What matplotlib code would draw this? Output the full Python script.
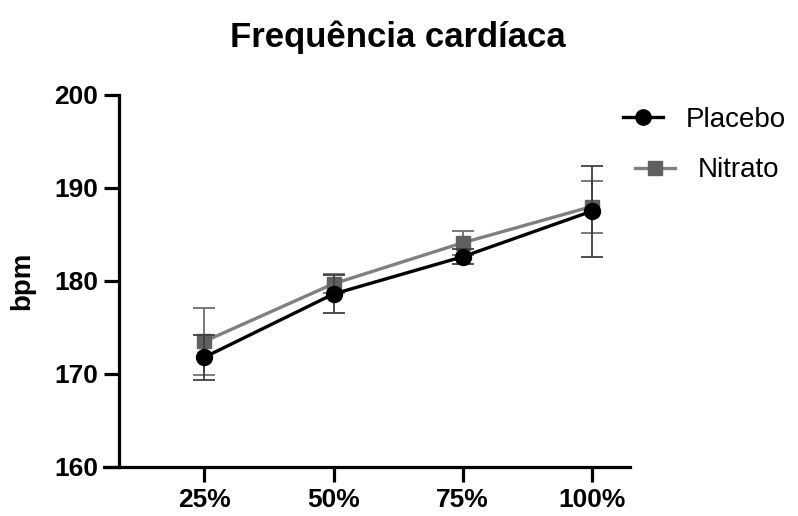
import matplotlib.pyplot as plt
from matplotlib.lines import Line2D

plt.rcParams['font.family'] = ['Liberation Sans', 'DejaVu Sans']

# intensidade do exercício
stages = ['25%', '50%', '75%', '100%']
placebo_mean = [171.8, 178.6, 182.6, 187.5]
placebo_sd = [2.4, 2.0, 0.8, 4.9]
nitrato_mean = [173.5, 179.7, 184.1, 188.0]
nitrato_sd = [3.6, 1.0, 1.3, 2.8]

x = list(range(1, len(stages) + 1))

fig = plt.figure(figsize=(7.98, 5.16), dpi=100)
ax = fig.add_axes([0.130, 0.095, 0.66, 0.721])

ax.errorbar(x, nitrato_mean, yerr=nitrato_sd, color='#808080', lw=2.4,
            marker='s', ms=10, mfc='#606060', mec='#606060',
            ecolor='#707070', elinewidth=1.3, capsize=8, capthick=1.3, zorder=2)
ax.errorbar(x, placebo_mean, yerr=placebo_sd, color='black', lw=2.4,
            marker='o', ms=11.5, ecolor='#404040', elinewidth=1.3,
            capsize=8, capthick=1.3, zorder=3)

ax.set_xlim(0.22, 4.3)
ax.set_ylim(160, 200)
ax.set_yticks([160, 170, 180, 190, 200])
ax.set_xticks(x)
ax.set_xticklabels(stages)

ax.spines['top'].set_visible(False)
ax.spines['right'].set_visible(False)
ax.spines['left'].set_position(('data', 0.34))
ax.spines['left'].set_linewidth(2.3)
ax.spines['bottom'].set_linewidth(2.3)
ax.tick_params(width=2.3, length=11, labelsize=19, pad=4)
for lbl in ax.get_xticklabels() + ax.get_yticklabels():
    lbl.set_fontweight('bold')

ax.set_ylabel('bpm', fontsize=20, fontweight='bold')
ax.yaxis.set_label_coords(-0.131, 0.5)
fig.suptitle('Frequência cardíaca', fontsize=25, fontweight='bold', x=0.498, y=0.96)

# legenda: cada entrada separada, como no Prism
h_placebo = Line2D([], [], color='black', lw=2.4, marker='o', ms=11)
h_nitrato = Line2D([], [], color='#808080', lw=2.4, marker='s', ms=10,
                   mfc='#606060', mec='#606060')
leg1 = fig.legend([h_placebo], ['Placebo'], loc='center left',
                  bbox_to_anchor=(0.767, 0.768), frameon=False, fontsize=20,
                  handlelength=1.45, handletextpad=0.8, borderaxespad=0)
leg2 = fig.legend([h_nitrato], ['Nitrato'], loc='center left',
                  bbox_to_anchor=(0.782, 0.670), frameon=False, fontsize=20,
                  handlelength=1.45, handletextpad=0.8, borderaxespad=0)

fig.savefig('out.png', dpi=100)
